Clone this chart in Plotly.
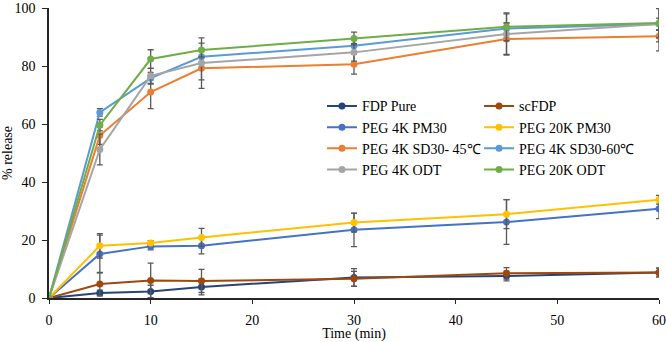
import plotly.graph_objects as go

time_min = [0, 5, 10, 15, 30, 45, 60]

series_names = ["FDP Pure", "scFDP", "PEG 4K PM30", "PEG 20K PM30",
                "PEG 4K SD30- 45\u2103", "PEG 4K SD30-60\u2103", "PEG 4K ODT", "PEG 20K ODT"]

fdp_pure = [0, 1.7, 2.2, 3.8, 7.1, 7.6, 8.8]
fdp_pure_err = [0, 1.0, 2.2, 2.7, 3.0, 1.7, 1.5]
scfdp = [0, 4.8, 6.0, 5.9, 6.6, 8.5, 8.8]
scfdp_err = [0, 4.0, 6.0, 4.0, 2.6, 2.0, 1.5]
peg4k_pm30 = [0, 15.2, 17.8, 18.0, 23.5, 26.2, 30.8]
peg4k_pm30_err = [0, 6.5, 1.2, 2.8, 5.8, 7.7, 3.4]
peg20k_pm30 = [0, 18.0, 19.0, 20.9, 26.0, 28.9, 33.9]
peg20k_pm30_err = [0, 4.2, 0.8, 3.1, 3.2, 5.0, 1.5]
peg4k_sd45 = [0, 56.0, 71.0, 79.2, 80.6, 89.3, 90.3]
peg4k_sd45_err = [0, 3.0, 5.7, 4.0, 3.4, 5.5, 2.0]
peg4k_sd60 = [0, 64.0, 75.8, 83.2, 87.0, 92.9, 94.5]
peg4k_sd60_err = [0, 1.3, 2.0, 2.0, 2.0, 2.0, 2.0]
peg4k_odt = [0, 51.2, 76.6, 81.0, 84.7, 91.0, 94.5]
peg4k_odt_err = [0, 5.3, 2.6, 8.7, 3.0, 7.0, 9.3]
peg20k_odt = [0, 59.6, 82.4, 85.5, 89.5, 93.5, 94.8]
peg20k_odt_err = [0, 2.0, 3.2, 2.4, 2.2, 4.8, 5.0]

values = [fdp_pure, scfdp, peg4k_pm30, peg20k_pm30, peg4k_sd45, peg4k_sd60, peg4k_odt, peg20k_odt]
errors = [fdp_pure_err, scfdp_err, peg4k_pm30_err, peg20k_pm30_err,
          peg4k_sd45_err, peg4k_sd60_err, peg4k_odt_err, peg20k_odt_err]
colors = ["#264478", "#9E480E", "#4472C4", "#FFC000", "#ED7D31", "#5B9BD5", "#A5A5A5", "#70AD47"]
legend_ids = ["legend", "legend2", "legend", "legend2", "legend", "legend2", "legend", "legend2"]

FONT = "Liberation Serif, Times New Roman, serif"

fig = go.Figure()
for name, y, e, c, lg in zip(series_names, values, errors, colors, legend_ids):
    fig.add_trace(go.Scatter(
        x=time_min, y=y, name=name, mode="lines+markers",
        line=dict(color=c, width=2),
        marker=dict(color=c, size=7),
        error_y=dict(type="data", array=e, visible=True, color="#595959", thickness=1.3, width=3),
        legend=lg,
    ))

legend_common = dict(font=dict(family=FONT, size=14, color="#000000"),
                     bgcolor="rgba(0,0,0,0)", yanchor="top", xanchor="left",
                     tracegroupgap=0, itemwidth=30)

fig.update_layout(
    width=666, height=342,
    margin=dict(l=49, r=7, t=8, b=44),
    paper_bgcolor="white", plot_bgcolor="white",
    font=dict(family=FONT, size=14, color="#000000"),
    showlegend=True,
    legend=dict(x=0.4475, y=0.716, **legend_common),
    legend2=dict(x=0.705, y=0.716, **legend_common),
    xaxis=dict(range=[0, 60], tickvals=[0, 10, 20, 30, 40, 50, 60], automargin=False,
               showline=True, linecolor="#262626", linewidth=1.5,
               ticks="outside", ticklen=4, tickcolor="#262626", tickwidth=1.2,
               showgrid=False, zeroline=False, ticklabelstandoff=4,
               tickfont=dict(family=FONT, size=14, color="#000000"),
               title=dict(text="Time (min)", font=dict(family=FONT, size=14, color="#000000"), standoff=2)),
    yaxis=dict(range=[0, 100], tickvals=[0, 20, 40, 60, 80, 100], automargin=False,
               showline=True, linecolor="#262626", linewidth=1.5,
               ticks="outside", ticklen=5, tickcolor="#262626", tickwidth=1.2,
               showgrid=False, zeroline=False, ticklabelstandoff=4,
               tickfont=dict(family=FONT, size=14, color="#000000"),
               title=dict(text="% release", font=dict(family=FONT, size=14, color="#000000"), standoff=6)),
)

fig.write_html("out.html")
